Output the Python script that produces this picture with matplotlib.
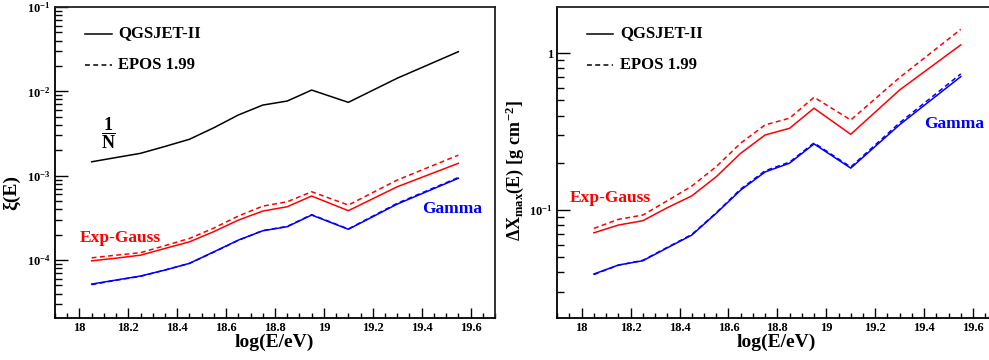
import numpy as np
import matplotlib
matplotlib.use("Agg")
import matplotlib.pyplot as plt
from matplotlib.lines import Line2D
from matplotlib.ticker import FixedLocator, LogLocator, NullFormatter, MultipleLocator

plt.rcParams['font.family'] = ['Liberation Serif', 'DejaVu Serif']
plt.rcParams['font.weight'] = 'bold'
plt.rcParams['mathtext.fontset'] = 'custom'
plt.rcParams['mathtext.rm'] = 'Liberation Serif:bold'
plt.rcParams['mathtext.bf'] = 'Liberation Serif:bold'
plt.rcParams['mathtext.it'] = 'Liberation Serif:bold'

# ---------------- data ----------------
logE = [18.05, 18.15, 18.25, 18.35, 18.45, 18.55, 18.65, 18.75, 18.85, 18.95, 19.1, 19.3, 19.55]

# left panel: xi(E)
xi_inv_n = [1.46e-3, 1.64e-3, 1.84e-3, 2.22e-3, 2.70e-3, 3.70e-3, 5.24e-3, 6.87e-3, 7.67e-3, 1.035e-2, 7.40e-3, 1.43e-2, 2.95e-2]
xi_expg_qgs = [9.77e-5, 1.05e-4, 1.14e-4, 1.37e-4, 1.64e-4, 2.17e-4, 2.97e-4, 3.80e-4, 4.28e-4, 5.73e-4, 3.84e-4, 7.38e-4, 1.40e-3]
xi_expg_epos = [1.06e-4, 1.14e-4, 1.22e-4, 1.48e-4, 1.80e-4, 2.39e-4, 3.32e-4, 4.35e-4, 4.90e-4, 6.44e-4, 4.48e-4, 8.87e-4, 1.75e-3]
xi_gamma_qgs = [5.18e-5, 5.78e-5, 6.45e-5, 7.59e-5, 9.12e-5, 1.25e-4, 1.72e-4, 2.22e-4, 2.48e-4, 3.41e-4, 2.31e-4, 4.60e-4, 9.31e-4]
xi_gamma_epos = [5.10e-5, 5.75e-5, 6.40e-5, 7.60e-5, 9.10e-5, 1.24e-4, 1.71e-4, 2.23e-4, 2.50e-4, 3.45e-4, 2.33e-4, 4.70e-4, 9.50e-4]

# right panel: Delta Xmax(E)
dx_expg_qgs = [0.0716, 0.0802, 0.0855, 0.1035, 0.123, 0.163, 0.230, 0.301, 0.332, 0.446, 0.304, 0.583, 1.13]
dx_expg_epos = [0.0764, 0.0872, 0.0929, 0.1146, 0.142, 0.189, 0.267, 0.349, 0.385, 0.524, 0.375, 0.70, 1.42]
dx_gamma_qgs = [0.0391, 0.0446, 0.0475, 0.0574, 0.0692, 0.0953, 0.134, 0.175, 0.199, 0.264, 0.185, 0.35, 0.709]
dx_gamma_epos = [0.0388, 0.0445, 0.0478, 0.0578, 0.0698, 0.0960, 0.136, 0.178, 0.202, 0.268, 0.188, 0.36, 0.738]

xticks = [18, 18.2, 18.4, 18.6, 18.8, 19, 19.2, 19.4, 19.6]
xticklabels = ['18', '18.2', '18.4', '18.6', '18.8', '19', '19.2', '19.4', '19.6']

W, H = 989, 360
fig = plt.figure(figsize=(W / 100, H / 100), dpi=100)

RED = '#ff0000'
BLUE = '#0000ff'
LW = 1.1
DASH = (0, (3.2, 2.2))
FRAME = '#222222'


def style_axis(ax):
    ax.set_xlim(17.9, 19.7)
    ax.xaxis.set_major_locator(FixedLocator(xticks))
    ax.set_xticklabels(xticklabels)
    ax.xaxis.set_minor_locator(MultipleLocator(0.05))
    ax.tick_params(axis='x', which='major', direction='in', length=7.5, width=1.0,
                   bottom=True, top=False, labelsize=9, pad=3, color='black')
    ax.tick_params(axis='x', which='minor', direction='in', length=3.8, width=1.0,
                   bottom=True, top=False)
    ax.tick_params(axis='y', which='major', direction='in', length=9.5, width=1.0,
                   left=True, right=False, labelsize=9, pad=3)
    ax.tick_params(axis='y', which='minor', direction='in', length=4.8, width=1.0,
                   left=True, right=False)
    for s in ['left', 'bottom']:
        ax.spines[s].set_linewidth(1.3)
        ax.spines[s].set_color('black')
    for s in ['top', 'right']:
        ax.spines[s].set_linewidth(1.3)
        ax.spines[s].set_color(FRAME)
    for lab in ax.get_xticklabels() + ax.get_yticklabels():
        lab.set_fontweight('bold')


# ---------------- left panel ----------------
ax1 = fig.add_axes([55 / W, 1 - 318 / H, 440 / W, 311 / H])
ax1.set_yscale('log')
ax1.set_ylim(2.05e-5, 1e-1)
ax1.plot(logE, xi_inv_n, color='black', lw=LW)
ax1.plot(logE, xi_expg_qgs, color=RED, lw=LW)
ax1.plot(logE, xi_expg_epos, color=RED, lw=LW, linestyle=DASH)
ax1.plot(logE, xi_gamma_qgs, color=BLUE, lw=LW)
ax1.plot(logE, xi_gamma_epos, color=BLUE, lw=LW, linestyle=DASH)
ax1.yaxis.set_major_locator(FixedLocator([1e-4, 1e-3, 1e-2, 1e-1]))
ax1.set_yticklabels([r'$10^{-4}$', r'$10^{-3}$', r'$10^{-2}$', r'$10^{-1}$'])
ax1.yaxis.set_minor_locator(LogLocator(base=10, subs=np.arange(2, 10), numticks=20))
ax1.yaxis.set_minor_formatter(NullFormatter())
style_axis(ax1)

# ---------------- right panel ----------------
ax2 = fig.add_axes([557.2 / W, 1 - 318 / H, 440.3 / W, 311 / H])
ax2.set_yscale('log')
ax2.set_ylim(0.0205, 1.97)
ax2.plot(logE, dx_expg_qgs, color=RED, lw=LW)
ax2.plot(logE, dx_expg_epos, color=RED, lw=LW, linestyle=DASH)
ax2.plot(logE, dx_gamma_qgs, color=BLUE, lw=LW)
ax2.plot(logE, dx_gamma_epos, color=BLUE, lw=LW, linestyle=DASH)
ax2.yaxis.set_major_locator(FixedLocator([0.1, 1.0]))
ax2.set_yticklabels([r'$10^{-1}$', '1'])
ax2.yaxis.set_minor_locator(LogLocator(base=10, subs=np.arange(2, 10), numticks=20))
ax2.yaxis.set_minor_formatter(NullFormatter())
style_axis(ax2)


def fx(px):
    return px / W


def fy(py):
    return 1 - py / H


# legends (manual, like ROOT TLegend)
for x0, x1, xt in [(85, 112, 118), (587, 613, 620)]:
    fig.add_artist(Line2D([fx(x0), fx(x1)], [fy(33.5), fy(33.5)], color='black', lw=LW))
    fig.add_artist(Line2D([fx(x0), fx(x1)], [fy(65), fy(65)], color='black', lw=LW, linestyle=DASH))
    fig.text(fx(xt), fy(33.5), 'QGSJET-II', fontsize=12, fontweight='bold', va='center', ha='left')
    fig.text(fx(xt), fy(65), 'EPOS 1.99', fontsize=12, fontweight='bold', va='center', ha='left')

# annotations
fig.text(fx(108), fy(133), r'$\dfrac{1}{N}$', fontsize=13, ha='center', va='center')
fig.text(fx(80), fy(238), 'Exp-Gauss', fontsize=12.5, fontweight='bold', color=RED, ha='left', va='center')
fig.text(fx(422), fy(209), 'Gamma', fontsize=12.5, fontweight='bold', color=BLUE, ha='left', va='center')
fig.text(fx(570), fy(198), 'Exp-Gauss', fontsize=12.5, fontweight='bold', color=RED, ha='left', va='center')
fig.text(fx(924), fy(124), 'Gamma', fontsize=12.5, fontweight='bold', color=BLUE, ha='left', va='center')

# axis titles
fig.text(fx(274), fy(342), 'log(E/eV)', fontsize=14, fontweight='bold', ha='center', va='center')
fig.text(fx(776), fy(342), 'log(E/eV)', fontsize=14, fontweight='bold', ha='center', va='center')
fig.text(fx(11), fy(193), 'ξ(E)', fontsize=14, fontweight='bold', ha='center', va='center', rotation=90)
fig.text(fx(515), fy(170), r'$\Delta X_{max}(E)\ [g\ cm^{-2}]$', fontsize=13, ha='center', va='center', rotation=90)

fig.savefig('out.png', dpi=100)
